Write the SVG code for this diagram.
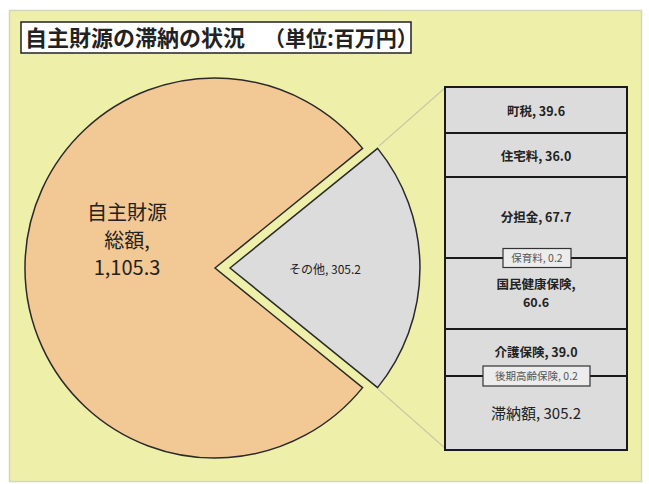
<svg xmlns="http://www.w3.org/2000/svg" width="649" height="484" viewBox="0 0 649 484">
<style>
text{font-family:"Noto Sans CJK JP","Noto Sans",sans-serif;fill:#222}
.seg{fill:#dcdcdc;stroke:#1a1a1a;stroke-width:2}
.lbl{font-size:12.5px;font-weight:bold;text-anchor:middle}
.small{font-size:10.5px;text-anchor:middle;fill:#555}
.tag{fill:#ececec;stroke:#333;stroke-width:1.2}
</style>
<rect x="0" y="0" width="649" height="484" fill="#ffffff"/>
<rect x="9.5" y="10.5" width="632" height="471" fill="#eef0aa" stroke="#d4d6bc" stroke-width="1.5"/>
<g id="title">
<rect x="21" y="22" width="390" height="31" fill="#ffffff" stroke="#222" stroke-width="1.5"/>
<text x="25" y="45.5" font-size="22" font-weight="bold" textLength="220" lengthAdjust="spacingAndGlyphs">自主財源の滞納の状況</text>
<text x="264" y="45.5" font-size="21" font-weight="bold">（単位:百万円）</text>
</g>
<g id="connectors" stroke="#c9c9a6" stroke-width="1.2" fill="none">
<line x1="379" y1="146" x2="446" y2="87"/>
<line x1="378" y1="389" x2="446" y2="449"/>
</g>
<g id="pie-main">
<path d="M215,268 L362.6,148.4 A190,190 0 1 0 362.6,387.6 Z" fill="#f2c894" stroke="#2a2a2a" stroke-width="1.5"/>
<text x="127" y="220" font-size="20" text-anchor="middle">自主財源</text>
<text x="127" y="248" font-size="20" text-anchor="middle">総額,</text>
<text x="127" y="275" font-size="20" text-anchor="middle">1,105.3</text>
</g>
<g id="pie-other">
<path d="M230,268 L377.6,148.4 A190,190 0 0 1 377.6,387.6 Z" fill="#dcdcdc" stroke="#2a2a2a" stroke-width="1.5"/>
<text x="325" y="274" font-size="12" text-anchor="middle">その他, 305.2</text>
</g>
<g id="bar">
<rect class="seg" x="445" y="87" width="182" height="46"/>
<rect class="seg" x="445" y="133" width="182" height="44"/>
<rect class="seg" x="445" y="177" width="182" height="81"/>
<rect class="seg" x="445" y="258" width="182" height="71"/>
<rect class="seg" x="445" y="329" width="182" height="47"/>
<rect class="seg" x="445" y="376" width="182" height="74"/>
</g>
<g id="label-chozei"><text class="lbl" x="536" y="116">町税, 39.6</text></g>
<g id="label-jutaku"><text class="lbl" x="536" y="161">住宅料, 36.0</text></g>
<g id="label-buntan"><text class="lbl" x="536" y="222">分担金, 67.7</text></g>
<g id="label-hoiku">
<rect class="tag" x="503" y="248.5" width="68" height="19"/>
<text class="small" x="537" y="262">保育料, 0.2</text>
</g>
<g id="label-kokuho">
<text class="lbl" x="536" y="289">国民健康保険,</text>
<text class="lbl" x="536" y="307">60.6</text>
</g>
<g id="label-kaigo"><text class="lbl" x="536" y="357">介護保険, 39.0</text></g>
<g id="label-kouki">
<rect class="tag" x="483" y="366" width="107" height="20"/>
<text class="small" x="536.5" y="380">後期高齢保険, 0.2</text>
</g>
<g id="label-tainou"><text x="536" y="419" font-size="15" text-anchor="middle">滞納額, 305.2</text></g>
</svg>
